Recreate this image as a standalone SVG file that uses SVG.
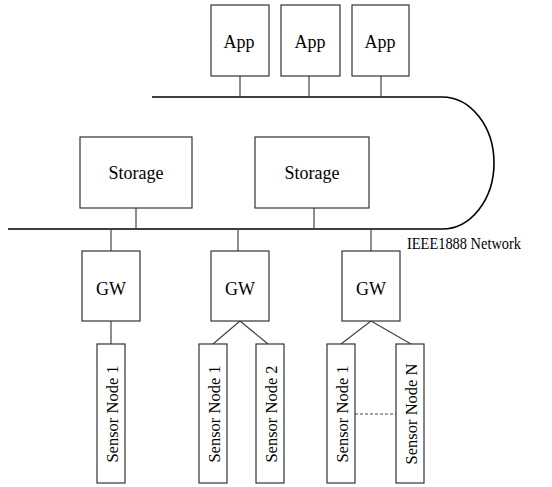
<svg xmlns="http://www.w3.org/2000/svg" width="552" height="487" viewBox="0 0 552 487">
<style>
.box{fill:#fff;stroke:#333;stroke-width:1.2}
.ln{fill:none;stroke:#444;stroke-width:1.2}
.bus{fill:none;stroke:#000;stroke-width:1.6}
.t{font-family:"Liberation Serif","Times New Roman",serif;font-size:18px;fill:#000;text-anchor:middle;dominant-baseline:central}
.s{font-size:16.5px}
</style>
<rect width="552" height="487" fill="#fff"/>
<g id="connectors">
<path class="bus" d="M8,229 H442 A52,66 0 0 0 442,97 H152"/>
<path class="ln" d="M240,76 V97 M309,76 V97 M381,76 V97"/>
<path class="ln" d="M136,208 V229 M314,208 V229"/>
<path class="ln" d="M111,229 V251 M238,229 V251 M371,229 V251"/>
<path class="ln" d="M111,321 V344"/>
<path class="ln" d="M240,321 L213,344 M240,321 L268,344"/>
<path class="ln" d="M371,321 L341,344 M371,321 L411,344"/>
<path class="ln" d="M355,414 H396" stroke-dasharray="3,2"/>
</g>
<g id="app1"><rect class="box" x="211" y="5" width="58" height="71"/><text class="t" x="239" y="42">App</text></g>
<g id="app2"><rect class="box" x="281" y="5" width="59" height="71"/><text class="t" x="310" y="42">App</text></g>
<g id="app3"><rect class="box" x="352" y="5" width="57" height="71"/><text class="t" x="380" y="42">App</text></g>
<g id="storage1"><rect class="box" x="80" y="137" width="112" height="71"/><text class="t" x="136" y="173">Storage</text></g>
<g id="storage2"><rect class="box" x="255" y="137" width="114" height="71"/><text class="t" x="312" y="173">Storage</text></g>
<g id="network-label"><text x="407" y="249" style="font-family:'Liberation Serif','Times New Roman',serif;font-size:17px" textLength="114" lengthAdjust="spacingAndGlyphs">IEEE1888 Network</text></g>
<g id="gw1"><rect class="box" x="82" y="251" width="58" height="70"/><text class="t" x="111" y="289">GW</text></g>
<g id="gw2"><rect class="box" x="211" y="251" width="58" height="70"/><text class="t" x="240" y="289">GW</text></g>
<g id="gw3"><rect class="box" x="342" y="251" width="58" height="70"/><text class="t" x="371" y="289">GW</text></g>
<g id="sensor1-1"><rect class="box" x="97" y="344" width="28" height="139"/><text class="t s" transform="translate(112,414) rotate(-90)">Sensor Node 1</text></g>
<g id="sensor2-1"><rect class="box" x="199" y="344" width="28" height="139"/><text class="t s" transform="translate(214,414) rotate(-90)">Sensor Node 1</text></g>
<g id="sensor2-2"><rect class="box" x="256" y="344" width="28" height="139"/><text class="t s" transform="translate(271,414) rotate(-90)">Sensor Node 2</text></g>
<g id="sensor3-1"><rect class="box" x="327" y="344" width="28" height="139"/><text class="t s" transform="translate(342,414) rotate(-90)">Sensor Node 1</text></g>
<g id="sensor3-n"><rect class="box" x="396" y="344" width="28" height="139"/><text class="t s" transform="translate(411,414) rotate(-90)">Sensor Node N</text></g>
</svg>
